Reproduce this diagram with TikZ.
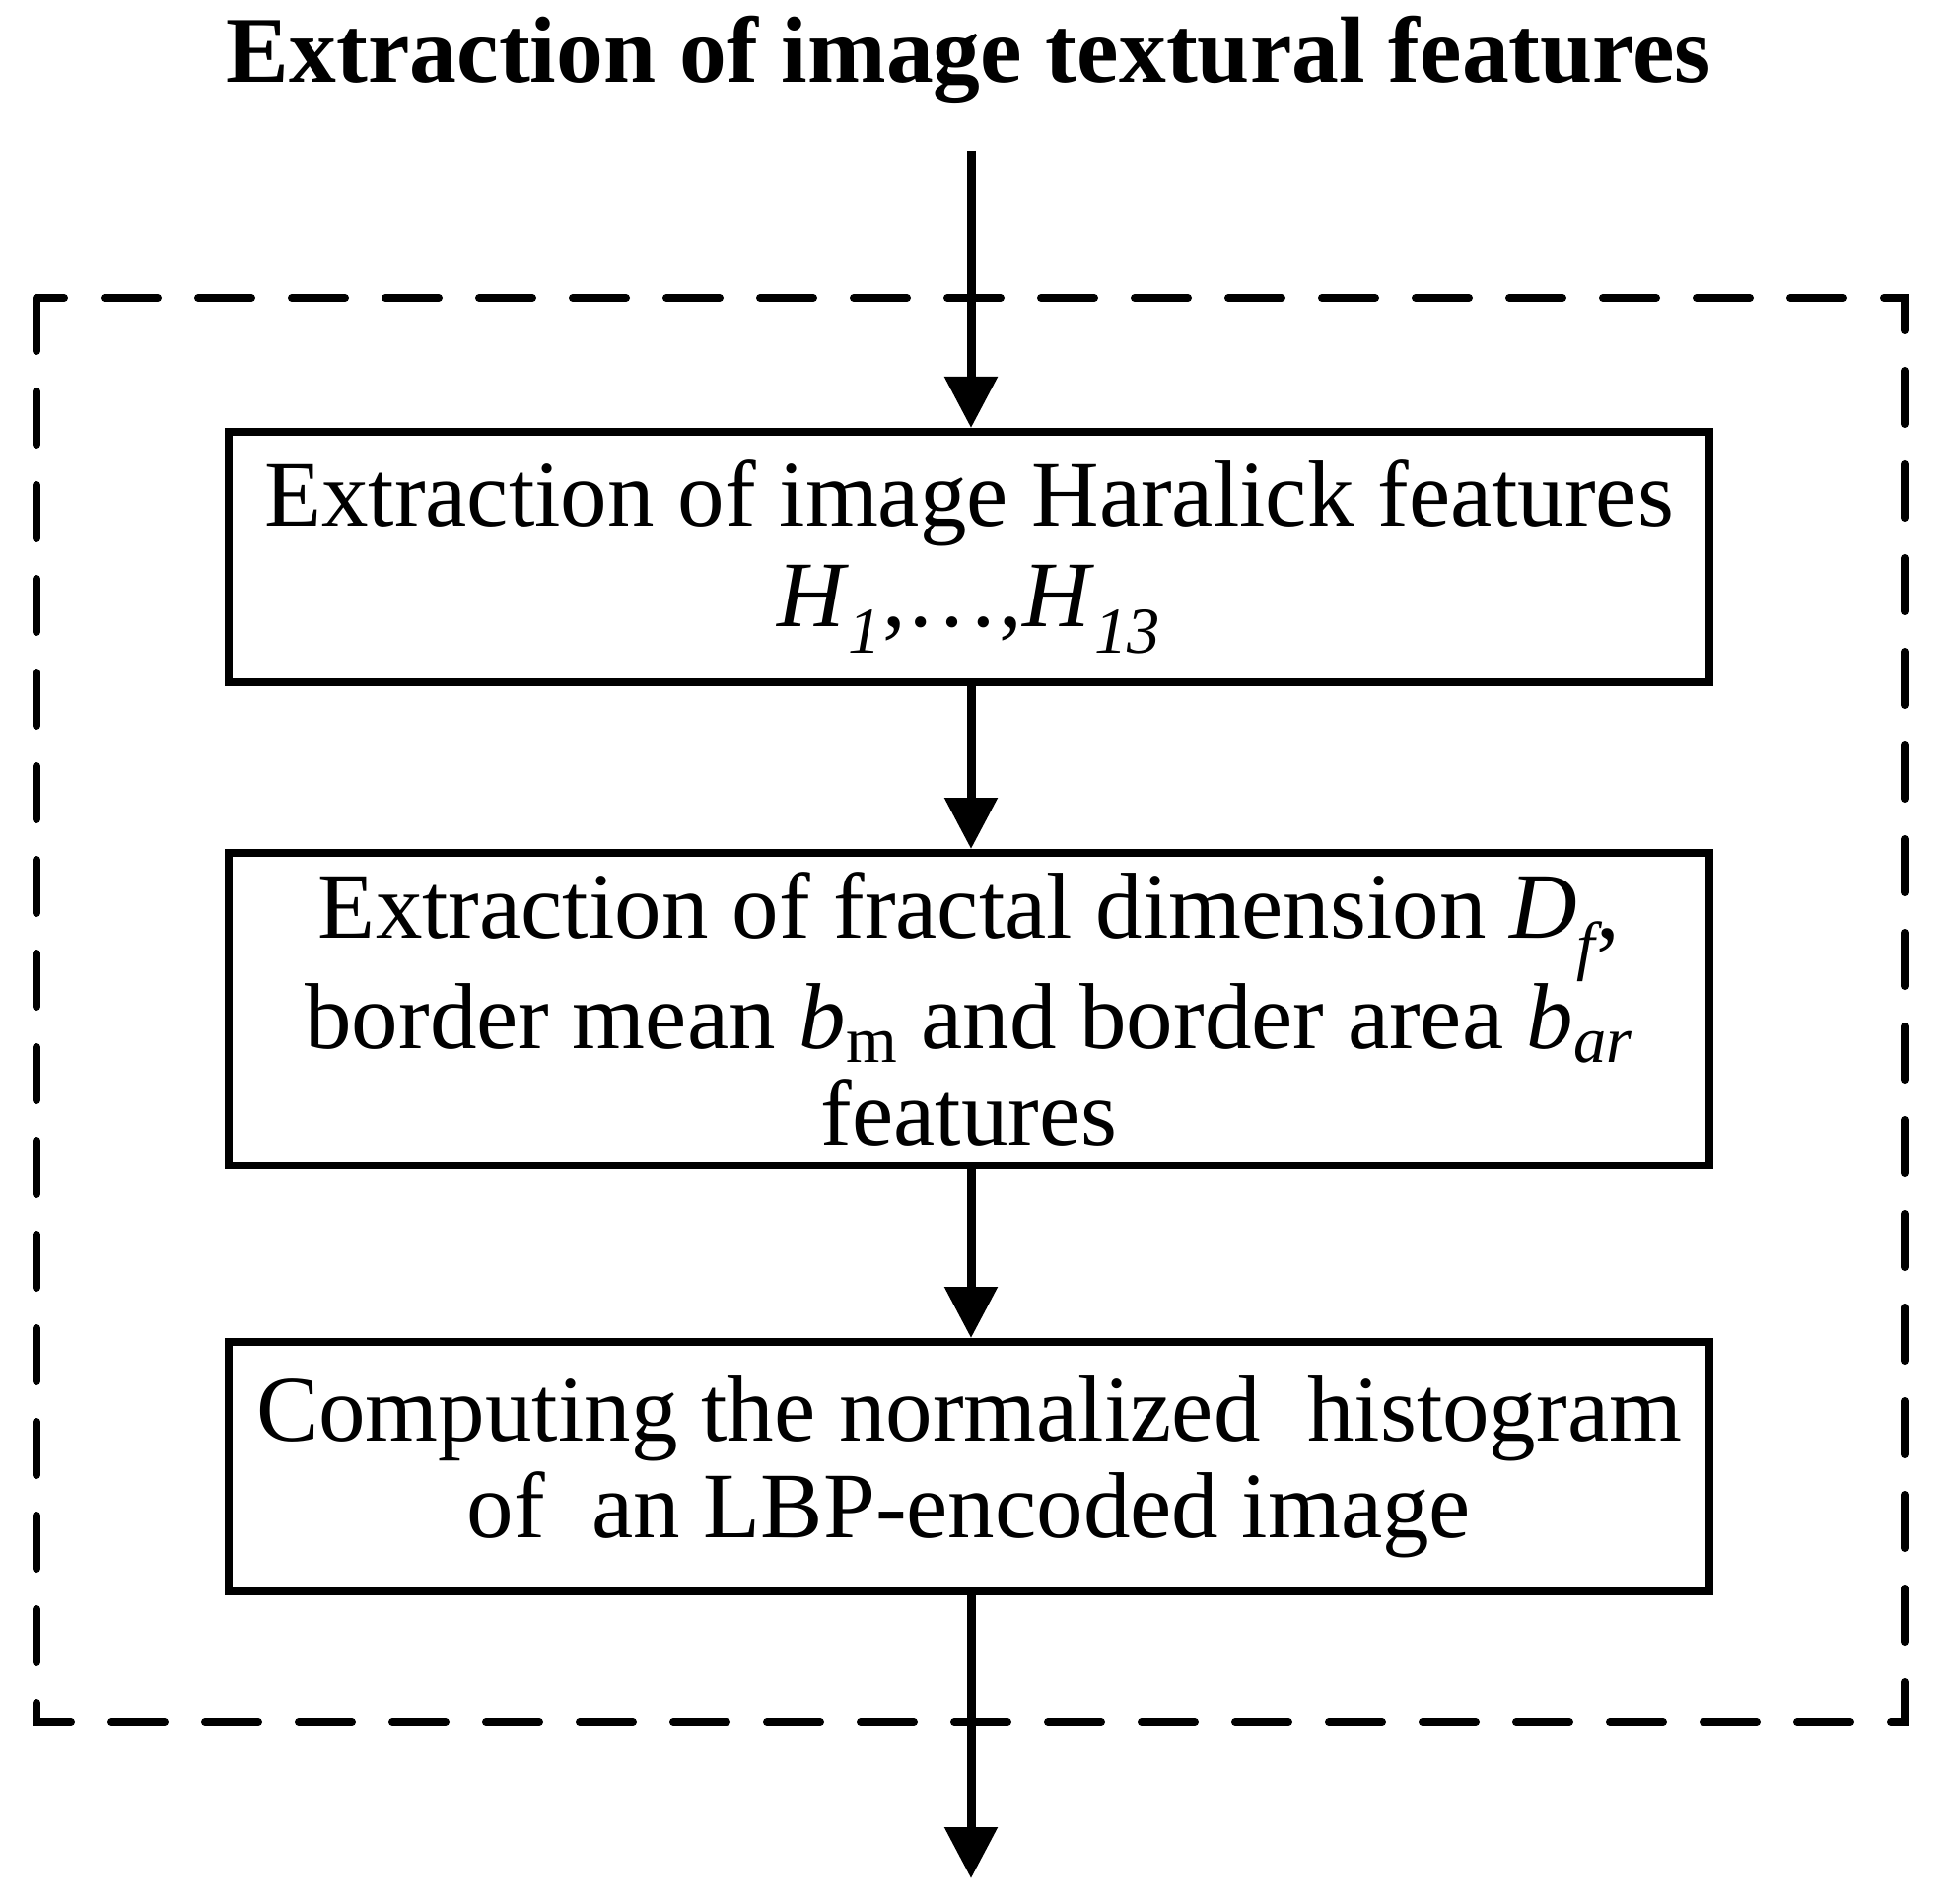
\documentclass[tikz,border=0pt]{standalone}
\usepackage{fontspec}
\setmainfont{Liberation Serif}
\usetikzlibrary{arrows.meta}
\begin{document}
\begin{tikzpicture}[x=0.5pt,y=-0.5pt,
  procbox/.style={draw, line width=4pt, minimum width=751pt, inner sep=0pt, align=center,
    font=\fontsize{47.5}{49}\selectfont},
  flow/.style={line width=4.5pt, -{Triangle[width=26pt,length=26pt]}},
  dashframe/.style={line width=4pt, line cap=round, dash pattern=on 27pt off 20.5pt}]
\useasboundingbox (0,0) rectangle (1972,1931);
\node[font=\fontsize{47.8}{60}\selectfont\bfseries] (title) at (983,60) {Extraction of image textural features};
\coordinate (in) at (985,153);
\draw[dashframe] (37,302) rectangle (1932,1746);
\node[procbox, minimum height=127pt] (b1) at (983,565)
  {Extraction of image Haralick features\\[2pt]\textit{H}\textsubscript{\textit{1}},\ldots,\textit{H}\textsubscript{\textit{13}}};
\node[procbox, minimum height=158.5pt] (b2) at (983,1023.5)
  {Extraction of fractal dimension \textit{D\textsubscript{f}},\\border mean \textit{b}\textsubscript{m} and border area \textit{b\textsubscript{ar}}\\features};
\node[procbox, minimum height=126.5pt] (b3) at (983,1487.5)
  {Computing the normalized\ \ histogram\\of\ \ an LBP-encoded image};
\coordinate (out) at (985,1905);
\draw[flow] (in) -- (in |- b1.north);
\draw[flow] (b1.south -| in) -- (b2.north -| in);
\draw[flow] (b2.south -| in) -- (b3.north -| in);
\draw[flow] (b3.south -| in) -- (out);
\end{tikzpicture}
\end{document}
